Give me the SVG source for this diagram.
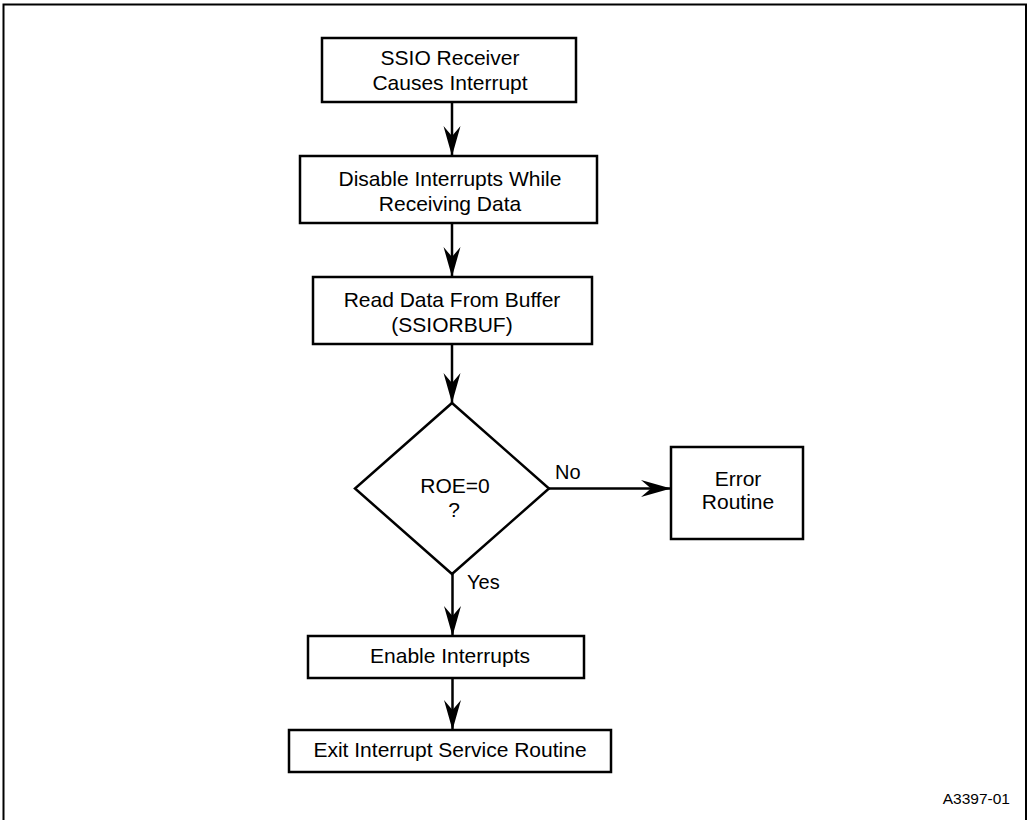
<svg xmlns="http://www.w3.org/2000/svg" width="1028" height="820" viewBox="0 0 1028 820">
<style>
.box{fill:#fff;stroke:#000;stroke-width:2.5}
.t{font-family:"Liberation Sans",Arial,sans-serif;font-size:21px;fill:#000;text-anchor:middle}
.lbl{font-family:"Liberation Sans",Arial,sans-serif;font-size:20px;fill:#000}
.c{stroke:#000;stroke-width:2.5;fill:none}
</style>
<defs>
<marker id="ah" markerUnits="userSpaceOnUse" markerWidth="32" markerHeight="20" viewBox="-30 -10 32 20" refX="0" refY="0" orient="auto">
<path d="M0,0 L-30,-8.5 L-20,0 L-30,8.5 Z" fill="#000"/>
</marker>
</defs>
<rect x="0" y="0" width="1028" height="820" fill="#fff"/>
<rect x="3.5" y="4.5" width="1022.5" height="820" fill="none" stroke="#000" stroke-width="2"/>
<g id="connectors">
<line class="c" x1="452" y1="102" x2="452" y2="156" marker-end="url(#ah)"/>
<line class="c" x1="452" y1="223" x2="452" y2="277" marker-end="url(#ah)"/>
<line class="c" x1="452" y1="344" x2="452" y2="403" marker-end="url(#ah)"/>
<line class="c" x1="549" y1="488.5" x2="671" y2="488.5" marker-end="url(#ah)"/>
<line class="c" x1="452.5" y1="574" x2="452.5" y2="636" marker-end="url(#ah)"/>
<line class="c" x1="452.5" y1="678" x2="452.5" y2="730" marker-end="url(#ah)"/>
<text class="lbl" x="555" y="479">No</text>
<text class="lbl" x="467" y="589">Yes</text>
</g>
<g id="n1">
<rect class="box" x="322" y="38" width="254" height="64"/>
<text class="t" x="450" y="65">SSIO Receiver</text>
<text class="t" x="450" y="90">Causes Interrupt</text>
</g>
<g id="n2">
<rect class="box" x="300" y="156" width="297" height="67"/>
<text class="t" x="450" y="186">Disable Interrupts While</text>
<text class="t" x="450" y="211">Receiving Data</text>
</g>
<g id="n3">
<rect class="box" x="313" y="277" width="279" height="67"/>
<text class="t" x="452" y="307">Read Data From Buffer</text>
<text class="t" x="452" y="332">(SSIORBUF)</text>
</g>
<g id="n4">
<polygon class="box" points="452,403 549,488.5 452,574 355,488.5"/>
<text class="t" x="455" y="493">ROE=0</text>
<text class="t" x="454" y="517">?</text>
</g>
<g id="n5">
<rect class="box" x="671" y="447" width="132" height="92"/>
<text class="t" x="738" y="486">Error</text>
<text class="t" x="738" y="509">Routine</text>
</g>
<g id="n6">
<rect class="box" x="308" y="636" width="276" height="42"/>
<text class="t" x="450" y="663">Enable Interrupts</text>
</g>
<g id="n7">
<rect class="box" x="289" y="730" width="322" height="42"/>
<text class="t" x="450" y="757">Exit Interrupt Service Routine</text>
</g>
<text x="1010" y="804" font-family="'Liberation Sans',Arial,sans-serif" font-size="15.5" text-anchor="end">A3397-01</text>
</svg>
